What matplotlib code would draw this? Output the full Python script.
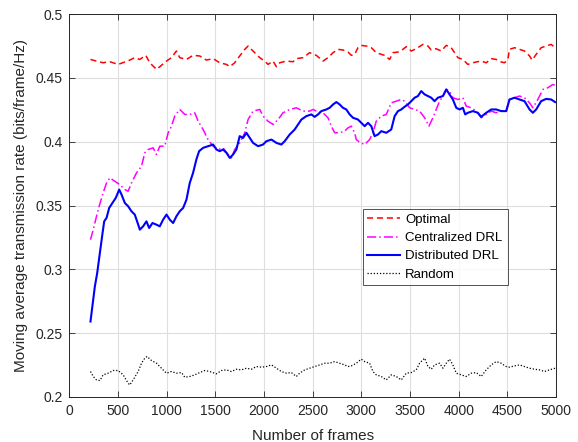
import matplotlib
matplotlib.use("Agg")
import matplotlib.pyplot as plt

plt.rcParams['font.family'] = ['Liberation Sans', 'DejaVu Sans']

# Optimal scheme
opt_x = [217, 279, 347, 416, 501, 570, 621, 672, 724, 785, 826, 895, 929, 998, 1049, 1100, 1134,
         1203, 1271, 1340, 1408, 1477, 1545, 1614, 1648, 1699, 1750, 1802, 1836, 1887, 1956, 2007,
         2041, 2093, 2127, 2161, 2230, 2298, 2332, 2401, 2469, 2537, 2606, 2657, 2709, 2760, 2811,
         2863, 2897, 2931, 2965, 2999, 3051, 3102, 3153, 3205, 3239, 3290, 3325, 3376, 3427, 3461,
         3513, 3564, 3632, 3684, 3718, 3769, 3821, 3872, 3923, 3958, 3992, 4043, 4094, 4146, 4180,
         4231, 4283, 4334, 4385, 4437, 4471, 4505, 4522, 4574, 4625, 4676, 4728, 4755, 4796, 4847,
         4899, 4950, 4990]
opt_y = [0.4645, 0.4632, 0.4619, 0.4627, 0.4606, 0.4625, 0.4640, 0.4659, 0.4645, 0.4677, 0.4619,
         0.4567, 0.4588, 0.4632, 0.4659, 0.4711, 0.4659, 0.4645, 0.4677, 0.4672, 0.4640, 0.4651,
         0.4619, 0.4606, 0.4588, 0.4619, 0.4672, 0.4724, 0.4750, 0.4711, 0.4659, 0.4632, 0.4606,
         0.4632, 0.4588, 0.4619, 0.4632, 0.4627, 0.4651, 0.4659, 0.4698, 0.4677, 0.4632, 0.4659,
         0.4698, 0.4724, 0.4719, 0.4703, 0.4677, 0.4685, 0.4737, 0.4755, 0.4750, 0.4737, 0.4698,
         0.4685, 0.4677, 0.4645, 0.4698, 0.4703, 0.4724, 0.4745, 0.4711, 0.4729, 0.4763, 0.4750,
         0.4719, 0.4729, 0.4711, 0.4755, 0.4737, 0.4698, 0.4659, 0.4645, 0.4606, 0.4619, 0.4625,
         0.4632, 0.4619, 0.4651, 0.4645, 0.4625, 0.4619, 0.4645, 0.4724, 0.4737, 0.4724, 0.4711,
         0.4672, 0.4640, 0.4685, 0.4737, 0.4750, 0.4763, 0.4737]

# Centralized DRL
cen_x = [217, 245, 279, 306, 347, 382, 416, 467, 518, 570, 604, 638, 690, 741, 775, 809, 861, 895,
         929, 980, 1015, 1049, 1083, 1134, 1186, 1237, 1288, 1323, 1374, 1425, 1477, 1528, 1579,
         1631, 1665, 1699, 1750, 1802, 1836, 1887, 1956, 1990, 2041, 2093, 2144, 2195, 2264, 2332,
         2401, 2469, 2503, 2537, 2606, 2657, 2691, 2726, 2777, 2828, 2863, 2897, 2931, 2948, 2982,
         3034, 3085, 3119, 3153, 3205, 3256, 3307, 3359, 3410, 3444, 3496, 3547, 3598, 3650, 3694,
         3735, 3769, 3804, 3838, 3872, 3906, 3940, 3992, 4043, 4077, 4129, 4180, 4231, 4283, 4334,
         4385, 4437, 4488, 4522, 4574, 4625, 4676, 4728, 4762, 4813, 4865, 4916, 4967, 4994]
cen_y = [0.3232, 0.3311, 0.3416, 0.3494, 0.3599, 0.3677, 0.3717, 0.3690, 0.3664, 0.3625, 0.3612,
         0.3677, 0.3756, 0.3808, 0.3913, 0.3939, 0.3952, 0.3900, 0.3965, 0.3965, 0.4070, 0.4122,
         0.4201, 0.4253, 0.4214, 0.4214, 0.4227, 0.4161, 0.4096, 0.4017, 0.3965, 0.3939, 0.3952,
         0.3900, 0.3873, 0.3939, 0.3991, 0.4070, 0.4174, 0.4240, 0.4253, 0.4201, 0.4161, 0.4135,
         0.4174, 0.4227, 0.4253, 0.4266, 0.4240, 0.4240, 0.4253, 0.4240, 0.4227, 0.4188, 0.4122,
         0.4070, 0.4070, 0.4083, 0.4109, 0.4122, 0.4070, 0.4017, 0.3996, 0.3978, 0.4017, 0.4070,
         0.4161, 0.4201, 0.4214, 0.4305, 0.4318, 0.4331, 0.4318, 0.4266, 0.4253, 0.4240, 0.4188,
         0.4122, 0.4188, 0.4253, 0.4318, 0.4358, 0.4410, 0.4397, 0.4345, 0.4331, 0.4345, 0.4279,
         0.4266, 0.4240, 0.4188, 0.4214, 0.4240, 0.4227, 0.4240, 0.4240, 0.4331, 0.4345, 0.4358,
         0.4345, 0.4305, 0.4266, 0.4331, 0.4410, 0.4423, 0.4449, 0.4440]

# Distributed DRL
dis_x = [217, 245, 262, 286, 313, 341, 358, 382, 409, 443, 477, 512, 536, 570, 604, 638, 672, 696,
         724, 758, 792, 820, 854, 895, 929, 963, 998, 1032, 1066, 1100, 1134, 1169, 1203, 1237,
         1271, 1305, 1333, 1374, 1425, 1477, 1511, 1545, 1579, 1614, 1648, 1682, 1716, 1750, 1785,
         1819, 1853, 1887, 1939, 1990, 2024, 2076, 2127, 2178, 2212, 2264, 2315, 2349, 2384, 2435,
         2486, 2520, 2555, 2589, 2640, 2674, 2709, 2743, 2777, 2811, 2845, 2880, 2914, 2965, 2999,
         3034, 3068, 3102, 3136, 3171, 3205, 3256, 3307, 3342, 3376, 3410, 3444, 3478, 3513, 3547,
         3581, 3615, 3650, 3684, 3718, 3752, 3786, 3838, 3872, 3906, 3940, 3975, 4009, 4043, 4067,
         4094, 4146, 4197, 4231, 4283, 4334, 4385, 4437, 4488, 4522, 4574, 4625, 4676, 4728, 4762,
         4796, 4847, 4899, 4950, 4990]
dis_y = [0.2591, 0.2761, 0.2866, 0.2971, 0.3128, 0.3285, 0.3376, 0.3403, 0.3481, 0.3520, 0.3560,
         0.3625, 0.3586, 0.3520, 0.3494, 0.3455, 0.3429, 0.3376, 0.3311, 0.3337, 0.3376, 0.3324,
         0.3363, 0.3350, 0.3337, 0.3389, 0.3429, 0.3389, 0.3363, 0.3416, 0.3455, 0.3481, 0.3546,
         0.3677, 0.3756, 0.3861, 0.3926, 0.3952, 0.3965, 0.3978, 0.3939, 0.3926, 0.3939, 0.3913,
         0.3873, 0.3900, 0.3939, 0.4044, 0.4030, 0.4070, 0.4030, 0.3991, 0.3965, 0.3978, 0.4004,
         0.4017, 0.3991, 0.3978, 0.4004, 0.4057, 0.4096, 0.4135, 0.4174, 0.4201, 0.4214, 0.4195,
         0.4214, 0.4240, 0.4253, 0.4266, 0.4292, 0.4311, 0.4292, 0.4266, 0.4253, 0.4214, 0.4188,
         0.4174, 0.4148, 0.4122, 0.4148, 0.4122, 0.4044, 0.4057, 0.4083, 0.4070, 0.4096, 0.4201,
         0.4240, 0.4253, 0.4274, 0.4292, 0.4318, 0.4345, 0.4358, 0.4397, 0.4371, 0.4358, 0.4345,
         0.4318, 0.4345, 0.4358, 0.4410, 0.4371, 0.4331, 0.4266, 0.4253, 0.4266, 0.4214, 0.4227,
         0.4240, 0.4227, 0.4195, 0.4227, 0.4253, 0.4253, 0.4240, 0.4240, 0.4331, 0.4345, 0.4331,
         0.4318, 0.4253, 0.4227, 0.4253, 0.4318, 0.4336, 0.4331, 0.4311]

# Random selection
rnd_x = [217, 245, 279, 313, 347, 399, 450, 501, 553, 604, 621, 655, 707, 741, 775, 799, 844, 895,
         929, 963, 998, 1049, 1100, 1152, 1186, 1237, 1288, 1340, 1391, 1442, 1511, 1562, 1614,
         1665, 1716, 1768, 1819, 1870, 1921, 1973, 2024, 2076, 2127, 2178, 2230, 2281, 2332, 2366,
         2418, 2469, 2520, 2572, 2623, 2674, 2726, 2777, 2828, 2863, 2897, 2948, 2999, 3034, 3085,
         3119, 3153, 3205, 3256, 3307, 3359, 3410, 3461, 3513, 3564, 3598, 3650, 3684, 3718, 3752,
         3804, 3838, 3872, 3906, 3940, 3975, 4026, 4077, 4129, 4180, 4231, 4283, 4334, 4385, 4437,
         4488, 4522, 4574, 4625, 4676, 4728, 4779, 4830, 4881, 4933, 4990]
rnd_y = [0.2199, 0.2160, 0.2133, 0.2128, 0.2173, 0.2186, 0.2207, 0.2207, 0.2173, 0.2107, 0.2094,
         0.2133, 0.2199, 0.2264, 0.2304, 0.2317, 0.2285, 0.2264, 0.2238, 0.2212, 0.2186, 0.2199,
         0.2186, 0.2191, 0.2154, 0.2160, 0.2173, 0.2191, 0.2207, 0.2199, 0.2181, 0.2207, 0.2212,
         0.2199, 0.2217, 0.2212, 0.2225, 0.2217, 0.2238, 0.2233, 0.2238, 0.2251, 0.2225, 0.2199,
         0.2186, 0.2191, 0.2160, 0.2186, 0.2212, 0.2225, 0.2238, 0.2251, 0.2264, 0.2264, 0.2277,
         0.2264, 0.2251, 0.2238, 0.2243, 0.2264, 0.2296, 0.2277, 0.2264, 0.2199, 0.2173, 0.2160,
         0.2133, 0.2173, 0.2160, 0.2133, 0.2186, 0.2191, 0.2212, 0.2264, 0.2304, 0.2238, 0.2217,
         0.2251, 0.2264, 0.2225, 0.2264, 0.2296, 0.2251, 0.2186, 0.2173, 0.2160, 0.2186, 0.2191,
         0.2160, 0.2212, 0.2251, 0.2277, 0.2264, 0.2238, 0.2233, 0.2243, 0.2251, 0.2238, 0.2225,
         0.2217, 0.2212, 0.2199, 0.2212, 0.2225]

x_ticks = [0, 500, 1000, 1500, 2000, 2500, 3000, 3500, 4000, 4500, 5000]
y_ticks = [0.2, 0.25, 0.3, 0.35, 0.4, 0.45, 0.5]
y_tick_labels = ['0.2', '0.25', '0.3', '0.35', '0.4', '0.45', '0.5']

fig = plt.figure(figsize=(5.78, 4.42), dpi=100)
ax = fig.add_axes([0.120, 0.102, 0.842, 0.866])

ax.plot(opt_x, opt_y, color='#ff0000', linestyle=(0, (4, 2.5)), linewidth=1.1, label='Optimal')
ax.plot(cen_x, cen_y, color='#ff00ff', linestyle=(0, (6, 2, 1, 2)), linewidth=1.1, label='Centralized DRL')
ax.plot(dis_x, dis_y, color='#0000ff', linestyle='-', linewidth=1.5, label='Distributed DRL')
ax.plot(rnd_x, rnd_y, color='#000000', linestyle=(0, (1, 1.5)), linewidth=0.9, label='Random')

ax.set_xlim(0, 5000)
ax.set_ylim(0.2, 0.5)
ax.set_xticks(x_ticks)
ax.set_xticklabels([str(t) for t in x_ticks])
ax.set_yticks(y_ticks)
ax.set_yticklabels(y_tick_labels)

ax.grid(True, color='#dedede', linewidth=0.8)
ax.set_axisbelow(True)
ax.tick_params(direction='in', top=True, right=True, length=4, width=0.6,
               labelsize=10, colors='#262626', pad=5)
for s in ax.spines.values():
    s.set_color('#262626')
    s.set_linewidth(0.7)

ax.set_xlabel('Number of frames', fontsize=11, color='#262626', labelpad=8)
ax.set_ylabel('Moving average transmission rate (bits/frame/Hz)', fontsize=11,
              color='#262626', labelpad=5)

leg = ax.legend(loc='lower left', bbox_to_anchor=(0.603, 0.292, 0.299, 0.204), mode='expand',
                fontsize=9.5, frameon=True, fancybox=False, edgecolor='#262626',
                handlelength=2.5, handletextpad=0.35, borderpad=0.35, labelspacing=0.45,
                borderaxespad=0)
leg.get_frame().set_linewidth(0.7)

fig.savefig('out.png', dpi=100)
